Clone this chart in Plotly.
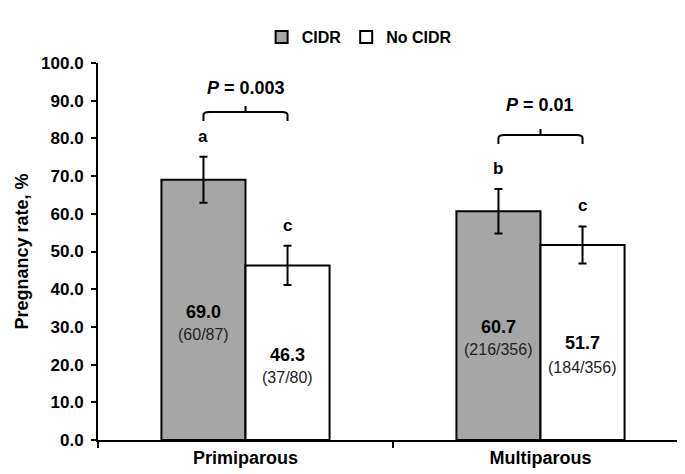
import plotly.graph_objects as go

# ---- data ----
categories = ["Primiparous", "Multiparous"]
series_names = ["CIDR", "No CIDR"]
cidr_rate = [69.0, 60.7]
nocidr_rate = [46.3, 51.7]
cidr_err = [6.1, 5.9]
nocidr_err = [5.2, 4.9]
cidr_counts = ["(60/87)", "(216/356)"]
nocidr_counts = ["(37/80)", "(184/356)"]
cidr_letters = ["a", "b"]
nocidr_letters = ["c", "c"]
p_values = ["0.003", "0.01"]
y_ticks = [0, 10, 20, 30, 40, 50, 60, 70, 80, 90, 100]

# ---- layout constants (positions / styles) ----
FONT = "Liberation Sans, Arial, sans-serif"
GREY = "#a6a6a6"
BARGAP = 0.43
HALF = (1 - BARGAP) / 4  # offset of each bar center from category center
LABEL_Y = {"CIDR": [(34.0, 27.9), (30.0, 24.1)], "No CIDR": [(22.5, 16.7), (25.7, 19.1)]}
BRACKET_Y = [87.0, 80.9]
BRACKET_DROP = 2.4
BRACKET_TICK = 1.6
P_TEXT_Y = [93.4, 88.9]
XR = [-0.5, 1.517]

fig = go.Figure()
fig.add_bar(name=series_names[0], x=categories, y=cidr_rate,
            marker=dict(color=GREY, line=dict(color="black", width=2)),
            error_y=dict(type="data", array=cidr_err, color="black", thickness=2, width=4))
fig.add_bar(name=series_names[1], x=categories, y=nocidr_rate,
            marker=dict(color="white", line=dict(color="black", width=2)),
            error_y=dict(type="data", array=nocidr_err, color="black", thickness=2, width=4))

annotations = []
shapes = []
groups = [(cidr_rate, cidr_err, cidr_counts, cidr_letters, -HALF, "CIDR"),
          (nocidr_rate, nocidr_err, nocidr_counts, nocidr_letters, HALF, "No CIDR")]
for vals, errs, counts, letters, off, nm in groups:
    for i, (v, e, c, l) in enumerate(zip(vals, errs, counts, letters)):
        x = i + off
        ly1, ly2 = LABEL_Y[nm][i]
        annotations.append(dict(x=x, y=ly1, xref="x2", yref="y", text=f"{v:.1f}",
                                showarrow=False,
                                font=dict(size=18, family=FONT, color="black", weight="bold")))
        annotations.append(dict(x=x, y=ly2, xref="x2", yref="y", text=c,
                                showarrow=False, font=dict(size=16, family=FONT, color="#222")))
        annotations.append(dict(x=x, y=v + e + 5.5, xref="x2", yref="y", text=l,
                                showarrow=False,
                                font=dict(size=17, family=FONT, color="black", weight="bold")))

for i, p in enumerate(p_values):
    x0, x1 = i - HALF, i + HALF
    yb = BRACKET_Y[i]
    r = 0.02
    path = (f"M {x0},{yb - BRACKET_DROP} L {x0},{yb - 0.8} Q {x0},{yb} {x0 + r},{yb} "
            f"L {x1 - r},{yb} Q {x1},{yb} {x1},{yb - 0.8} L {x1},{yb - BRACKET_DROP}")
    shapes.append(dict(type="path", path=path, xref="x2", yref="y",
                       line=dict(color="black", width=2)))
    shapes.append(dict(type="line", x0=i, x1=i, y0=yb, y1=yb + BRACKET_TICK,
                       xref="x2", yref="y", line=dict(color="black", width=2)))
    annotations.append(dict(x=i, y=P_TEXT_Y[i], xref="x2", yref="y",
                            text=f"<i>P</i> = {p}", showarrow=False,
                            font=dict(size=18, family=FONT, color="black", weight="bold")))

fig.update_layout(
    width=685, height=474,
    margin=dict(l=90, r=0, t=55, b=42, autoexpand=False),
    paper_bgcolor="white", plot_bgcolor="white",
    barmode="group", bargap=BARGAP, bargroupgap=0,
    font=dict(family=FONT, color="black"),
    legend=dict(orientation="h", x=0.275, xanchor="left", y=1.069, yanchor="middle",
                font=dict(size=16, family=FONT, color="black", weight="bold"),
                itemwidth=30, traceorder="normal"),
    xaxis=dict(type="category", range=XR, showline=True, linecolor="black", linewidth=2,
               ticks="outside", tickson="boundaries", ticklen=6, tickwidth=2, tickcolor="black",
               showgrid=False,
               tickfont=dict(size=18, family=FONT, color="black", weight="bold")),
    xaxis2=dict(overlaying="x", range=XR, visible=False, type="linear"),
    yaxis=dict(range=[0, 100], tickvals=y_ticks, tickformat=".1f", showline=True,
               linecolor="black", linewidth=2, ticks="outside", ticklen=5, tickwidth=2,
               tickcolor="black", showgrid=False, zeroline=False, ticklabelstandoff=4,
               tickfont=dict(size=17, family=FONT, color="black", weight="bold"),
               title=dict(text="Pregnancy rate, %",
                          font=dict(size=18, family=FONT, weight="bold"),
                          standoff=8)),
    annotations=annotations, shapes=shapes,
)
fig.write_html("out.html")
